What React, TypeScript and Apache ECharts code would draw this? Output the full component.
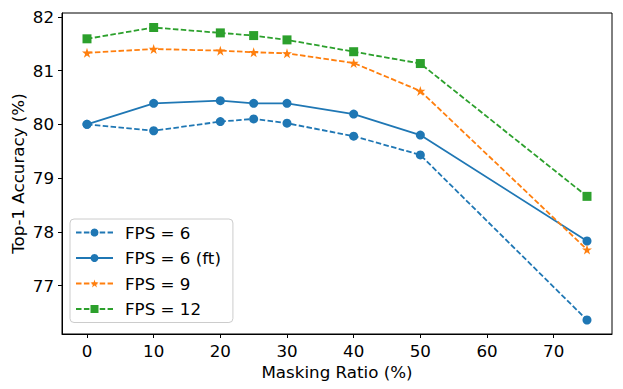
import React, { useEffect, useRef } from "react";
import * as echarts from "echarts";

const maskingRatio = [0, 10, 20, 25, 30, 40, 50, 75];
const fps6 = [80.0, 79.88, 80.05, 80.1, 80.02, 79.78, 79.43, 76.36];
const fps6ft = [80.0, 80.39, 80.44, 80.39, 80.39, 80.19, 79.8, 77.83];
const fps9 = [81.33, 81.4, 81.37, 81.34, 81.32, 81.14, 80.62, 77.67];
const fps12 = [81.59, 81.8, 81.7, 81.65, 81.57, 81.35, 81.13, 78.66];
const xTicks = [0, 10, 20, 30, 40, 50, 60, 70];
const yTicks = [77, 78, 79, 80, 81, 82];

const FONT = "DejaVu Sans";
const FS = 16.7;
const dash = [5.5, 2.4];

function mk(name: string, vals: number[], color: string, symbol: string, dashed: boolean, size: number) {
  return {
    name,
    type: "line",
    data: maskingRatio.map((x, i) => [x, vals[i]]),
    symbol,
    symbolSize: size,
    showSymbol: true,
    lineStyle: { color, width: 1.8, type: dashed ? dash : "solid" },
    itemStyle: { color, borderColor: color, borderWidth: 0 },
  };
}

export default function App() {
  const ref = useRef<HTMLDivElement>(null);
  useEffect(() => {
    const chart = echarts.init(ref.current!, undefined, { renderer: "svg" });
    chart.setOption({
      animation: false,
      backgroundColor: "#fff",
      grid: {
        left: 62,
        right: 11,
        top: 13,
        bottom: 55,
        show: true,
        borderColor: "#000",
        borderWidth: 1,
        outerBoundsMode: "none",
        containLabel: false,
      },
      legend: {
        orient: "vertical",
        left: 70,
        top: 219,
        padding: [5, 12, 5, 5],
        itemWidth: 37,
        itemHeight: 10,
        itemGap: 8.5,
        borderColor: "#ccc",
        borderWidth: 1,
        borderRadius: 4,
        backgroundColor: "#fff",
        textStyle: { fontFamily: FONT, fontSize: FS, color: "#000", padding: [0, 0, 0, 7] },
        data: ["FPS = 6", "FPS = 6 (ft)", "FPS = 9", "FPS = 12"],
      },
      xAxis: {
        type: "value",
        min: -3.75,
        max: 78.75,
        name: "Masking Ratio (%)",
        nameLocation: "middle",
        nameGap: 29,
        nameMoveOverlap: false,
        nameTextStyle: { fontFamily: FONT, fontSize: FS, color: "#000" },
        axisLine: { show: true, onZero: false, lineStyle: { color: "#000", width: 1 } },
        axisTick: { show: true, length: 4, customValues: xTicks, lineStyle: { color: "#000" } },
        axisLabel: { customValues: xTicks, fontFamily: FONT, fontSize: FS, color: "#000", margin: 8 },
        splitLine: { show: false },
      },
      yAxis: {
        type: "value",
        min: 76.1,
        max: 82.07,
        name: "Top-1 Accuracy (%)",
        nameLocation: "middle",
        nameGap: 36,
        nameMoveOverlap: false,
        nameTextStyle: { fontFamily: FONT, fontSize: FS, color: "#000" },
        axisLine: { show: true, onZero: false, lineStyle: { color: "#000", width: 1 } },
        axisTick: { show: true, length: 4, customValues: yTicks, lineStyle: { color: "#000" } },
        axisLabel: { customValues: yTicks, fontFamily: FONT, fontSize: FS, color: "#000", margin: 8 },
        splitLine: { show: false },
      },
      series: [
        mk("FPS = 6", fps6, "#1f77b4", "circle", true, 9),
        mk("FPS = 6 (ft)", fps6ft, "#1f77b4", "circle", false, 9),
        mk("FPS = 9", fps9, "#ff7f0e", "path://M50,0 L61.8,36.2 L100,36.2 L69.1,58.8 L80.9,95.1 L50,72.7 L19.1,95.1 L30.9,58.8 L0,36.2 L38.2,36.2 Z", true, 10),
        mk("FPS = 12", fps12, "#2ca02c", "rect", true, 9),
      ],
    });
    return () => chart.dispose();
  }, []);
  return <div ref={ref} style={{ width: 623, height: 389, position: "absolute", left: 0, top: 0 }} />;
}
